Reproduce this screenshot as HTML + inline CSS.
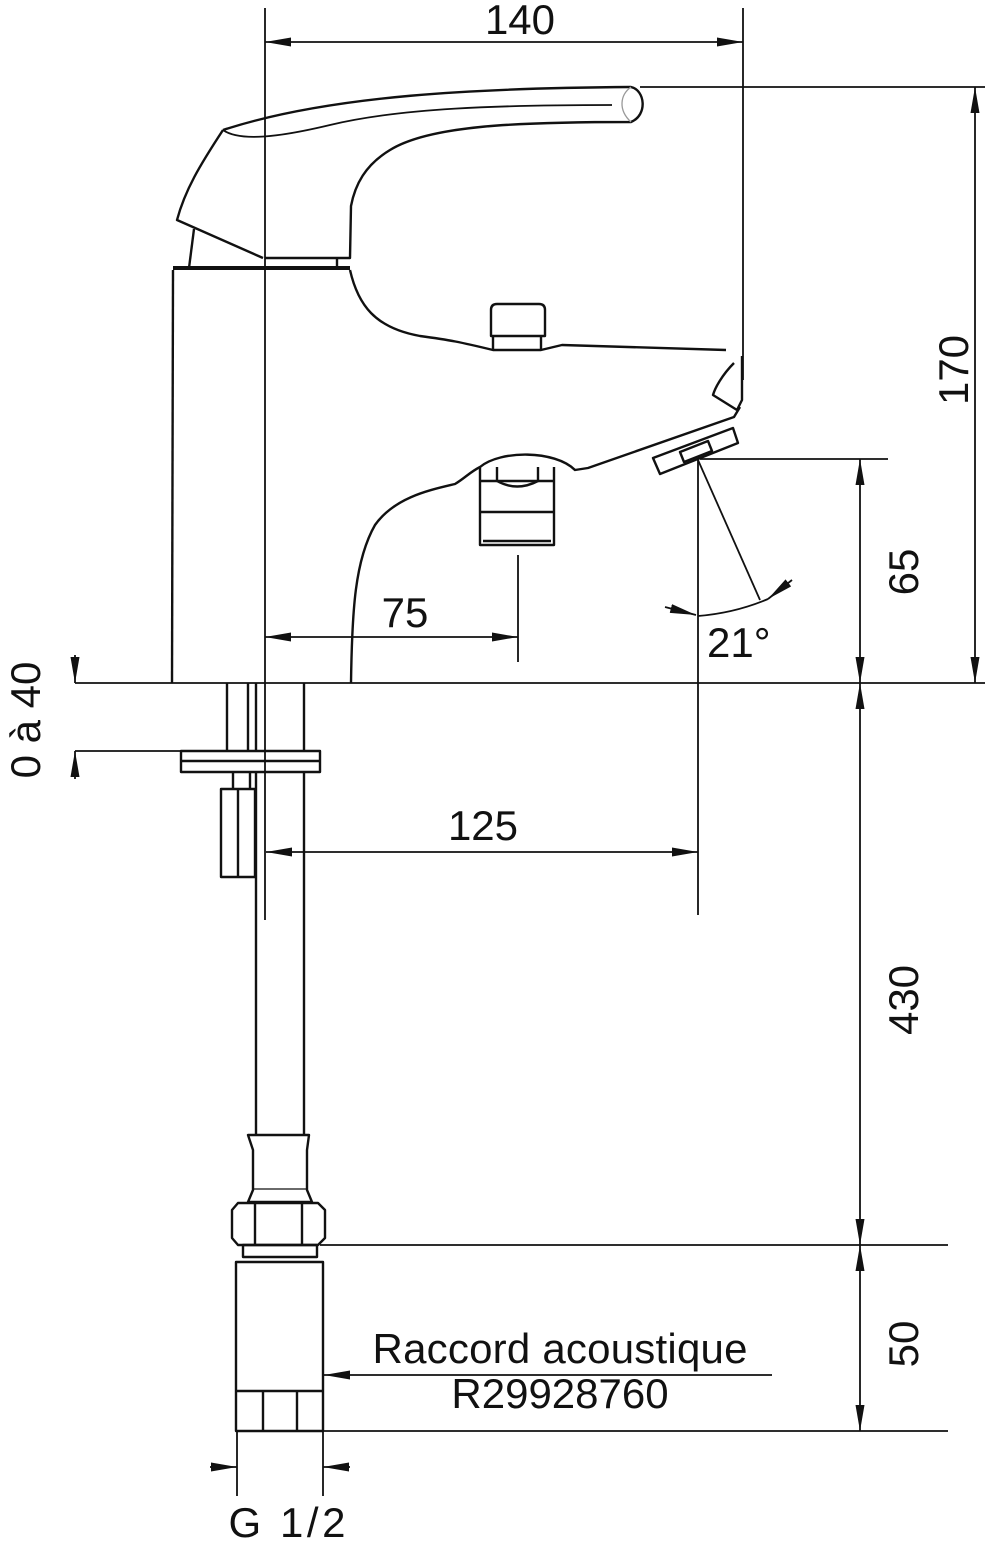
<!DOCTYPE html>
<html><head><meta charset="utf-8"><style>
html,body{margin:0;padding:0;background:#fff;}
svg{display:block;}
text{font-family:"Liberation Sans",sans-serif;fill:#111;}
</style></head><body>
<svg width="994" height="1542" viewBox="0 0 994 1542" xmlns="http://www.w3.org/2000/svg">
<defs>
<marker id="a" viewBox="0 0 26 9" refX="26" refY="4.5" markerWidth="26" markerHeight="9" markerUnits="userSpaceOnUse" orient="auto-start-reverse"><path d="M0,0 L26,4.5 L0,9 z" fill="#111"/></marker>
</defs>
<g fill="none" stroke="#111" stroke-width="2.4" stroke-linejoin="round">
<path d="M223,130 C330,95 480,88 631,87 C645,90 648,115 631,122 C520,122 430,125 390,150 C365,165 355,185 351,206 L350,258 L265,258"/>
<path d="M223,130 C200,165 185,190 177,220 L263,258"/>
<path d="M223,130 C240,142 280,137 330,125 C400,108 500,105 612,105" stroke-width="1.8"/>
<path d="M631,87 C620,95 618,110 631,122" stroke="#999" stroke-width="1.3"/>
<path d="M194,229 L189,268"/>
<path d="M337,258 L337,268"/>
<path d="M173,268 L350,268" stroke-width="4"/>
<path d="M173,270 L172,683"/>
<path d="M350,270 C358,305 375,328 420,336 C450,340 460,342 493,350 L541,350 L562,345 L726,350"/>
<path d="M351,683 C352,610 355,560 375,525 C395,497 430,490 455,484 C465,478 470,472 480,467 C500,450 555,450 575,470 L588,468 L734,417 L740,407"/>
<path d="M491,336 L491,310 Q491,304 497,304 L539,304 Q545,304 545,310 L545,336 Z"/>
<path d="M493,336 L493,350 M541,336 L541,350"/>
<path d="M742,356 L742,400 L737,410"/>
<path d="M734,363 C722,375 715,388 713,395 L737,410"/>
<path d="M653,458 L660,474 L738,443 L733,428 Z"/>
<path d="M680,452 L684,462 L712,451 L708,441 Z"/>
<path d="M480,467 L480,545 L554,545 L554,467"/>
<path d="M480,481 L554,481 M480,512 L554,512 M483,541 L551,541"/>
<path d="M497,467 L497,481 M538,467 L538,481"/>
<path d="M497,481 Q517,492 538,481"/>
<path d="M227,683 L227,751 M304,683 L304,751 M248,683 L248,751 M256,683 L256,751"/>
<rect x="181" y="751" width="139" height="21"/>
<path d="M181,761 L320,761"/>
<path d="M233,772 L233,789 M250,772 L250,789"/>
<rect x="221" y="789" width="34" height="88"/>
<path d="M238,789 L238,877"/>
<path d="M256,772 L256,1135 M304,772 L304,1135"/>
<path d="M248,1135 L309,1135 L307,1150 L307,1190 L312,1202 L248,1202 L253,1190 L253,1150 Z"/>
<path d="M253,1189 L307,1189" stroke-width="1.2"/>
<path d="M238,1203 L318,1203 L325,1210 L325,1238 L318,1245 L238,1245 L232,1238 L232,1210 Z"/>
<path d="M255,1203 L255,1245 M302,1203 L302,1245"/>
<rect x="243" y="1245" width="74" height="12"/>
<rect x="236" y="1262" width="87" height="169"/>
<path d="M236,1391 L323,1391 M263,1391 L263,1431 M297,1391 L297,1431"/>
</g>
<g fill="none" stroke="#111" stroke-width="1.8">
<path d="M265,8 L265,920"/>
<path d="M743,8 L743,380"/>
<path d="M640,87 L985,87"/>
<path d="M75,683 L985,683"/>
<path d="M700,459 L888,459"/>
<path d="M320,1245 L948,1245"/>
<path d="M320,1431 L948,1431"/>
<path d="M75,751 L181,751"/>
<path d="M518,555 L518,662"/>
<path d="M698,460 L698,915"/>
<path d="M237,1431 L237,1496 M323,1431 L323,1496"/>
<path d="M265,42 L743,42" marker-start="url(#a)" marker-end="url(#a)"/>
<path d="M975,87 L975,683" marker-start="url(#a)" marker-end="url(#a)"/>
<path d="M860,459 L860,683" marker-start="url(#a)" marker-end="url(#a)"/>
<path d="M860,683 L860,1245" marker-start="url(#a)" marker-end="url(#a)"/>
<path d="M860,1245 L860,1431" marker-start="url(#a)" marker-end="url(#a)"/>
<path d="M265,637 L518,637" marker-start="url(#a)" marker-end="url(#a)"/>
<path d="M266,852 L698,852" marker-start="url(#a)" marker-end="url(#a)"/>
<path d="M75,655 L75,683" marker-end="url(#a)"/>
<path d="M75,779 L75,751" marker-end="url(#a)"/>
<path d="M210,1467 L237,1467" marker-end="url(#a)"/>
<path d="M350,1467 L323,1467" marker-end="url(#a)"/>
<path d="M772,1375 L324,1375" marker-end="url(#a)"/>
<path d="M698,460 L760,600"/>
<path d="M698,616 Q735,613 768,599"/>
<path d="M665,607 L696,615" marker-end="url(#a)"/>
<path d="M792,580 L768,599" marker-end="url(#a)"/>
</g>
<g font-size="42">
<text x="520" y="34" text-anchor="middle">140</text>
<text x="405" y="627" text-anchor="middle">75</text>
<text x="483" y="840" text-anchor="middle">125</text>
<text x="707" y="657">21°</text>
<text transform="translate(968,370) rotate(-90)" text-anchor="middle">170</text>
<text transform="translate(918,572) rotate(-90)" text-anchor="middle">65</text>
<text transform="translate(918,1000) rotate(-90)" text-anchor="middle">430</text>
<text transform="translate(918,1344) rotate(-90)" text-anchor="middle">50</text>
<text transform="translate(40,720) rotate(-90)" text-anchor="middle">0 à 40</text>
<text x="560" y="1363" text-anchor="middle" textLength="375">Raccord acoustique</text>
<text x="560" y="1408" text-anchor="middle">R29928760</text>
<text x="287" y="1537" text-anchor="middle" textLength="117">G 1/2</text>
</g>
</svg>
</body></html>
